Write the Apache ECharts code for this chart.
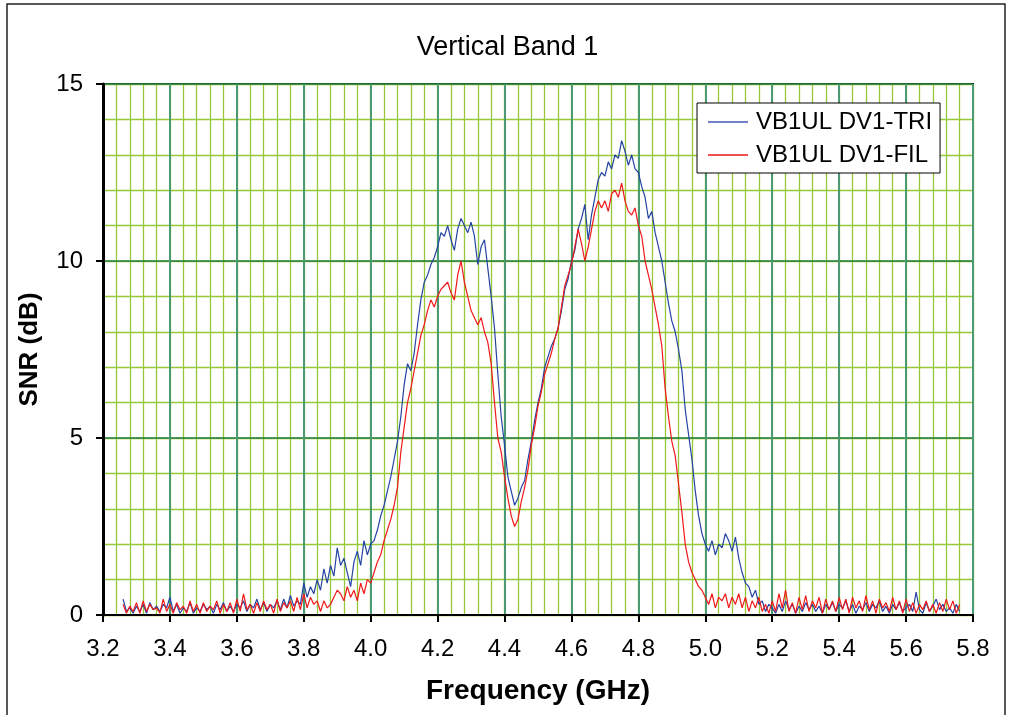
<!DOCTYPE html>
<html><head><meta charset="utf-8">
<script src="https://cdn.jsdelivr.net/npm/echarts@6/dist/echarts.min.js"></script>
<style>html,body{margin:0;padding:0;background:#fff;}#c{width:1015px;height:715px;}</style>
</head><body><div id="c"></div>
<script>
// Sampling grid of the traces (GHz)
const freqStart = 3.26;
const freqStep = 0.01;
const xTicks = ['3.2','3.4','3.6','3.8','4.0','4.2','4.4','4.6','4.8','5.0','5.2','5.4','5.6','5.8'];
const seriesNames = ['VB1UL DV1-TRI', 'VB1UL DV1-FIL'];

// VB1UL DV1-TRI (blue), SNR dB from 3.26 to 5.76 GHz
const triSNR = [
 0.45,0.1,0.2,0.05,0.25,0.1,0.3,0.05,0.35,0.15,
 0.25,0.1,0.3,0.2,0.5,0.1,0.3,0.05,0.2,0.1,
 0.35,0.05,0.2,0.1,0.3,0.15,0.25,0.05,0.3,0.15,
 0.35,0.1,0.25,0.1,0.3,0.2,0.4,0.1,0.3,0.2,
 0.45,0.15,0.35,0.1,0.3,0.2,0.4,0.15,0.45,0.2,
 0.55,0.25,0.4,0.3,
 0.9,0.5,0.8,0.6,1.0,0.7,1.3,0.9,1.4,1.1,
 1.9,1.4,1.6,1.2,0.8,1.5,1.8,1.4,2.1,1.7,
 2.0,2.1,2.4,2.8,3.1,3.5,3.9,4.4,4.9,5.6,
 6.5,7.1,6.9,7.4,8.2,8.9,9.4,9.6,9.9,10.1,
 10.4,10.8,10.7,11.0,10.6,10.3,10.9,11.2,11.0,10.8,
 11.1,10.7,9.9,10.4,10.6,9.8,9.0,8.1,6.8,5.6,
 4.8,3.9,3.5,3.1,3.3,3.6,3.8,4.4,4.9,5.5,
 6.0,6.4,7.0,7.3,7.6,7.8,8.1,8.6,9.2,9.5,
 10.0,10.3,10.9,11.2,11.6,10.6,11.3,11.8,12.3,12.5,
 12.4,12.8,12.6,13.0,12.9,13.4,13.1,12.7,13.0,12.6,
 12.5,12.1,11.8,11.2,11.4,10.8,10.4,10.0,9.4,8.8,
 8.3,8.0,7.5,6.9,5.8,5.1,4.4,3.5,2.8,2.3,
 2.0,1.8,2.1,1.7,2.0,1.9,2.3,2.1,1.8,2.2,
 1.6,1.2,0.9,0.8,0.5,0.7,0.3,0.4,0.1,0.3,
 0.2,0.05,0.3,0.1,0.4,0.15,0.3,0.05,0.25,0.1,
 0.35,0.15,0.3,0.1,0.25,0.05,0.3,0.15,0.35,0.1,
 0.3,0.2,0.4,0.1,0.3,0.05,0.25,0.15,0.35,0.1,
 0.3,0.2,0.4,0.1,0.25,0.05,0.3,0.15,0.35,0.1,
 0.2,0.3,0.1,0.65,0.15,0.05,0.35,0.1,0.25,0.45,
 0.15,0.3,0.1,0.2,0.05,0.3,0.1
];

// VB1UL DV1-FIL (red), SNR dB from 3.26 to 5.76 GHz
const filSNR = [
 0.3,0.05,0.25,0.1,0.35,0.05,0.4,0.1,0.3,0.15,
 0.2,0.05,0.45,0.1,0.3,0.05,0.35,0.15,0.25,0.05,
 0.4,0.1,0.3,0.05,0.35,0.1,0.25,0.15,0.4,0.05,
 0.3,0.1,0.35,0.05,0.45,0.1,0.6,0.15,0.3,0.05,
 0.35,0.1,0.4,0.15,0.3,0.05,0.45,0.1,0.35,0.2,
 0.4,0.1,0.5,0.15,
 0.6,0.2,0.5,0.3,0.4,0.1,0.4,0.2,0.3,0.5,
 0.7,0.6,0.4,0.8,0.5,0.7,0.4,0.9,0.6,1.0,
 0.9,1.2,1.5,1.7,2.1,2.4,2.7,3.1,3.6,4.6,
 5.3,6.0,6.4,6.9,7.4,7.9,8.2,8.6,8.9,8.7,
 9.0,9.2,9.3,9.4,9.1,8.9,9.6,10.0,9.4,9.0,
 8.6,8.4,8.2,8.4,8.0,7.7,7.1,6.0,5.0,4.6,
 3.9,3.3,2.8,2.5,2.7,3.2,3.6,4.1,4.8,5.3,
 5.9,6.3,6.8,7.1,7.4,7.8,8.1,8.7,9.3,9.6,
 9.9,10.4,10.9,10.5,10.0,10.4,10.9,11.4,11.7,11.5,
 11.7,11.4,11.9,12.0,11.8,12.2,11.7,11.4,11.3,11.5,
 11.0,10.7,10.0,9.6,9.2,8.7,8.2,7.6,6.4,5.6,
 4.9,4.5,3.7,2.9,2.0,1.5,1.2,1.0,0.8,0.7,
 0.5,0.3,0.6,0.2,0.5,0.4,0.6,0.2,0.5,0.3,
 0.6,0.2,0.5,0.1,0.4,0.2,0.5,0.1,0.3,0.05,
 0.4,0.1,0.6,0.2,0.7,0.1,0.35,0.05,0.5,0.15,
 0.55,0.1,0.4,0.2,0.5,0.05,0.45,0.15,0.4,0.1,
 0.5,0.15,0.45,0.05,0.5,0.2,0.4,0.1,0.55,0.15,
 0.4,0.05,0.45,0.2,0.35,0.1,0.5,0.15,0.4,0.05,
 0.45,0.1,0.35,0.05,0.3,0.15,0.4,0.1,0.3,0.05,
 0.35,0.1,0.45,0.15,0.4,0.05,0.3
];

function pairs(vals){ return vals.map((v,i)=>[+(freqStart+i*freqStep).toFixed(3), v]); }

const FONT = 'Liberation Sans, Arial, sans-serif';
const hidden = {axisLine:{show:false}, axisTick:{show:false}, axisLabel:{show:false}};
const chart = echarts.init(document.getElementById('c'), null, {renderer:'canvas'});
chart.setOption({
  animation:false,
  backgroundColor:'#fff',
  title:{text:'Vertical Band 1', left:'center', top:29,
    textStyle:{fontFamily:FONT, fontSize:27, fontWeight:'normal', color:'#000'}},
  graphic:[{type:'rect', shape:{x:7, y:4, width:998, height:730},
    style:{fill:'none', stroke:'#222', lineWidth:1.5}, silent:true, z:-1}],
  legend:{orient:'vertical', left:697, top:103,
    padding:[7,8,6,11], itemGap:9, itemWidth:40, itemHeight:2, icon:'rect',
    backgroundColor:'#fff', borderColor:'#000', borderWidth:1,
    textStyle:{fontFamily:FONT, fontSize:24, color:'#000', padding:[0,0,0,3], lineHeight:24},
    data:seriesNames, z:10},
  grid:{left:103, right:42, top:84, bottom:100, show:true, borderColor:'#000', borderWidth:2, backgroundColor:'transparent'},
  xAxis:[{type:'value', min:3.2, max:5.8, interval:0.2, z:2,
    name:'Frequency (GHz)', nameLocation:'middle', nameGap:62,
    nameTextStyle:{fontFamily:FONT, fontSize:28, fontWeight:'bold', color:'#000'},
    axisLine:{lineStyle:{color:'#000', width:2}},
    axisTick:{show:true, inside:false, length:7, lineStyle:{color:'#000', width:2}},
    axisLabel:{fontFamily:FONT, fontSize:24, color:'#000', margin:22,
      formatter:(v)=>xTicks[Math.round((v-3.2)/0.2)]},
    splitLine:{show:true, lineStyle:{color:'#4a9a74', width:2}}},
   Object.assign({type:'value', min:3.2, max:5.8, interval:0.04, z:1, position:'bottom',
    splitLine:{show:true, lineStyle:{color:'#96c83a', width:1.3}}}, hidden)],
  yAxis:[{type:'value', min:0, max:15, interval:5, z:2,
    name:'SNR (dB)', nameLocation:'middle', nameGap:60,
    nameTextStyle:{fontFamily:FONT, fontSize:26, fontWeight:'bold', color:'#000'},
    axisLine:{show:true, lineStyle:{color:'#000', width:3}},
    axisTick:{show:true, inside:false, length:7, lineStyle:{color:'#000', width:2}},
    axisLabel:{fontFamily:FONT, fontSize:24, color:'#000', margin:20},
    splitLine:{show:true, lineStyle:{color:'#217a3c', width:1.5}}},
   Object.assign({type:'value', min:0, max:15, interval:1, z:1, position:'left',
    splitLine:{show:true, lineStyle:{color:'#96c83a', width:1.3}}}, hidden)],
  series:[
    {name:seriesNames[0], type:'line', data:pairs(triSNR), showSymbol:false, symbol:'none',
     lineStyle:{color:'#2443a3', width:1.2}, itemStyle:{color:'#6f82c8'}, z:3},
    {name:seriesNames[1], type:'line', data:pairs(filSNR), showSymbol:false, symbol:'none',
     lineStyle:{color:'#f01818', width:1.2}, itemStyle:{color:'#f05050'}, z:4}
  ]
});
</script></body></html>
